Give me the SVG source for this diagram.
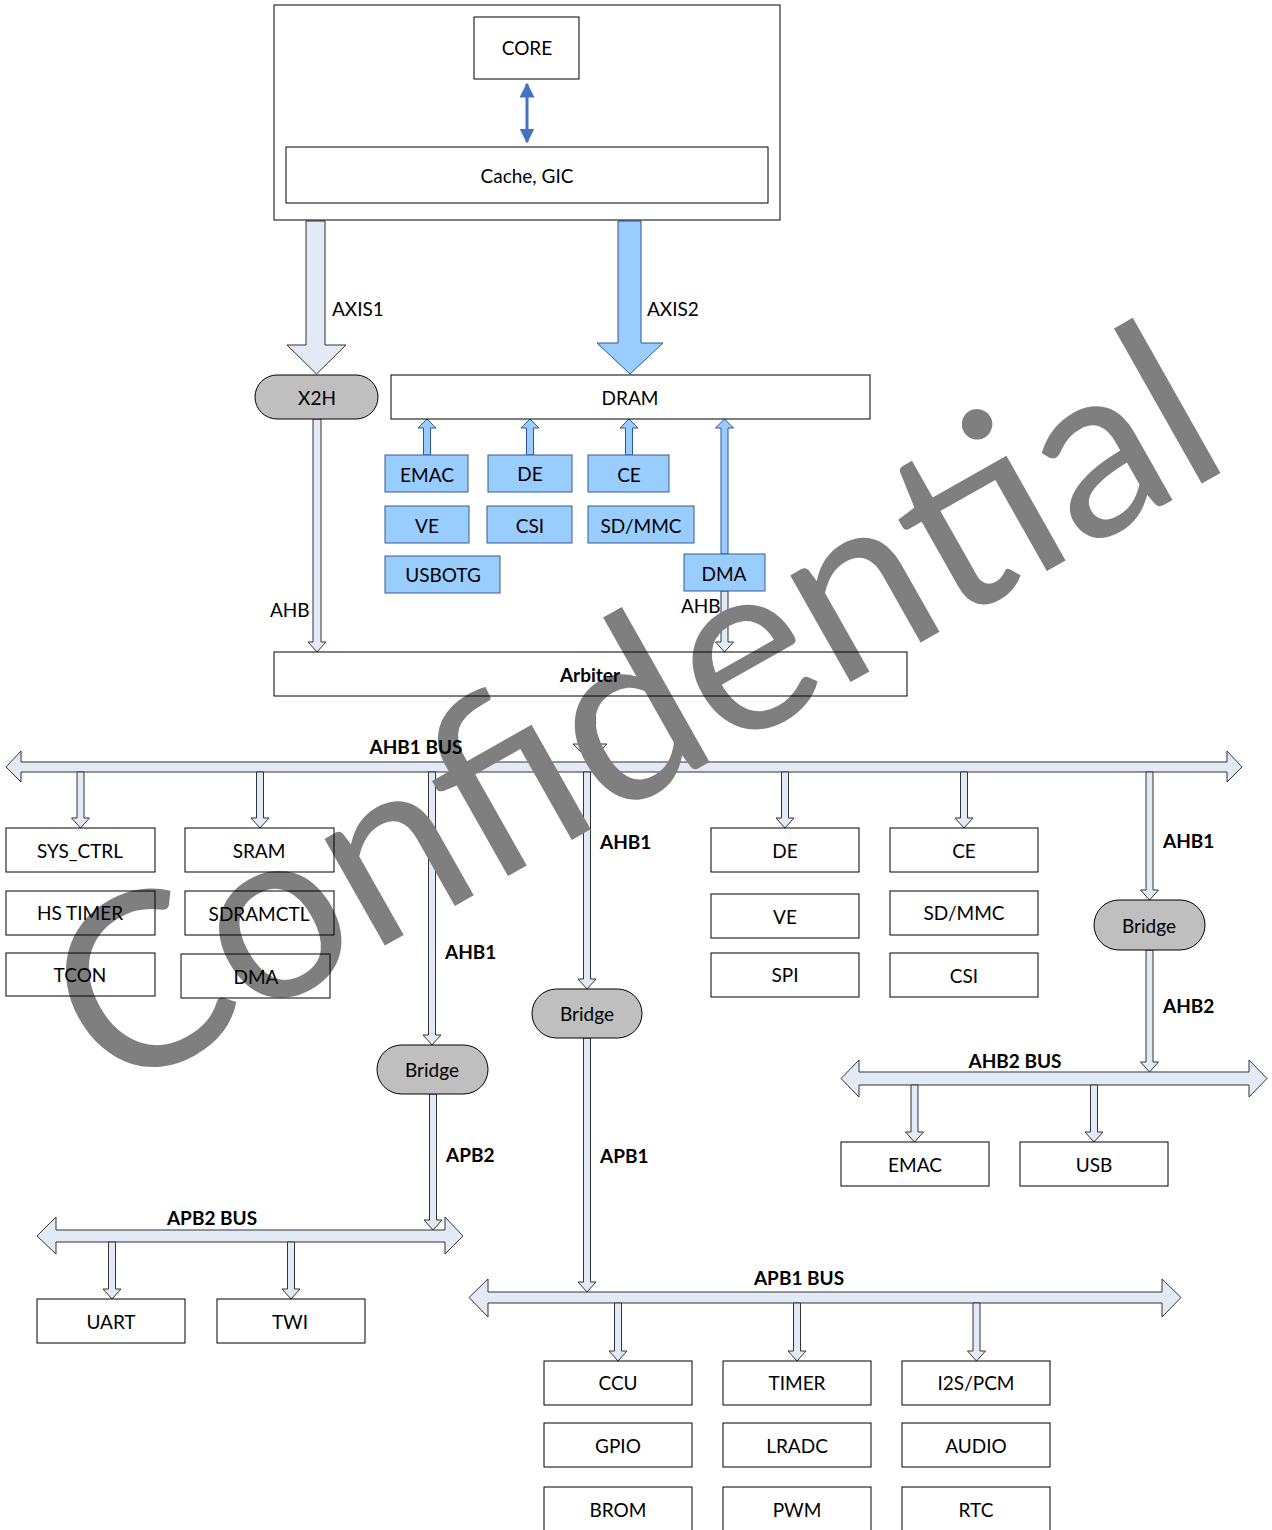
<svg xmlns="http://www.w3.org/2000/svg" width="1272" height="1530" viewBox="0 0 1272 1530">
<style>
text{font-family:Lato,"Open Sans","Liberation Sans",sans-serif;font-size:19px;fill:#000;text-anchor:middle;dominant-baseline:central}
.st{text-anchor:start}
.b{font-weight:bold}
.box{fill:none;stroke:#000;stroke-width:1}
.bl{fill:#99ccff;stroke:#385d8a;stroke-width:1}
.pill{fill:#bfbfbf;stroke:#000;stroke-width:1}
.ba{fill:#e2eaf6;stroke:#333;stroke-width:1}
.bu{fill:#99ccff;stroke:#2f5597;stroke-width:1}
.wm{font-family:Lato,"Liberation Sans",sans-serif;font-size:242px;fill:#7f7f7f;text-anchor:middle;dominant-baseline:alphabetic}
</style>
<defs>
<marker id="ah" viewBox="0 0 10 10" refX="9" refY="5" markerWidth="5" markerHeight="5" orient="auto-start-reverse"><path d="M0,0L10,5L0,10z" fill="#4472c4"/></marker>
</defs>
<rect width="1272" height="1530" fill="#fff"/>
<g id="connectors">
<line x1="527" y1="84" x2="527" y2="142" stroke="#4472c4" stroke-width="3" marker-start="url(#ah)" marker-end="url(#ah)"/>
<polygon class="ba" points="306,221 325,221 325,345 346,345 316.5,374 287,345 306,345"/>
<polygon class="bu" points="618,221 641,221 641,343 663,343 630,374 597,343 618,343"/>
<polygon class="bu" points="423.5,455 430.5,455 430.5,428 436,428 427,419 418,428 423.5,428"/>
<polygon class="bu" points="526.5,455 533.5,455 533.5,428 539,428 530,419 521,428 526.5,428"/>
<polygon class="bu" points="625.5,455 632.5,455 632.5,428 638,428 629,419 620,428 625.5,428"/>
<polygon class="bu" points="721,554 728,554 728,428 733.5,428 724.5,419 715.5,428 721,428"/>
<polygon class="ba" points="313,419 321,419 321,642 326,642 317,652 308,642 313,642"/>
<polygon class="ba" points="721,591 728,591 728,642 733.5,642 724.5,652 715.5,642 721,642"/>
<polygon class="ba" points="584.5,696 595.5,696 595.5,744 607,744 590,761 573,744 584.5,744"/>
<polygon class="ba" points="6,767 21,751 21,762 1227,762 1227,751 1242,767 1227,782 1227,772 21,772 21,782"/>
<polygon class="ba" points="77,772 84,772 84,818 89.5,818 80.5,828 71.5,818 77,818"/>
<polygon class="ba" points="256.5,772 263.5,772 263.5,818 269,818 260,828 251,818 256.5,818"/>
<polygon class="ba" points="428.5,772 435.5,772 435.5,1035 441,1035 432,1045 423,1035 428.5,1035"/>
<polygon class="ba" points="583.5,772 590.5,772 590.5,979 596,979 587,989 578,979 583.5,979"/>
<polygon class="ba" points="781.5,772 788.5,772 788.5,818 794,818 785,828 776,818 781.5,818"/>
<polygon class="ba" points="960.5,772 967.5,772 967.5,818 973,818 964,828 955,818 960.5,818"/>
<polygon class="ba" points="1146,772 1153,772 1153,890 1158.5,890 1149.5,900 1140.5,890 1146,890"/>
<polygon class="ba" points="429.5,1094 436.5,1094 436.5,1220 442,1220 433,1230 424,1220 429.5,1220"/>
<polygon class="ba" points="583.5,1038 590.5,1038 590.5,1282 596,1282 587,1292 578,1282 583.5,1282"/>
<polygon class="ba" points="1146,950 1153,950 1153,1062 1158.5,1062 1149.5,1072 1140.5,1062 1146,1062"/>
<polygon class="ba" points="841,1078.5 859,1060 859,1072 1249,1072 1249,1060 1267,1078.5 1249,1097 1249,1085 859,1085 859,1097"/>
<polygon class="ba" points="911,1085 918,1085 918,1132 923.5,1132 914.5,1142 905.5,1132 911,1132"/>
<polygon class="ba" points="1090.5,1085 1097.5,1085 1097.5,1132 1103,1132 1094,1142 1085,1132 1090.5,1132"/>
<polygon class="ba" points="37,1236 56,1217 56,1230 445,1230 445,1217 463,1236 445,1254 445,1242 56,1242 56,1254"/>
<polygon class="ba" points="108.5,1242 115.5,1242 115.5,1289 121,1289 112,1299 103,1289 108.5,1289"/>
<polygon class="ba" points="287.5,1242 294.5,1242 294.5,1289 300,1289 291,1299 282,1289 287.5,1289"/>
<polygon class="ba" points="469,1297.5 488,1279 488,1292 1162,1292 1162,1279 1181,1297.5 1162,1317 1162,1303 488,1303 488,1317"/>
<polygon class="ba" points="614.5,1303 621.5,1303 621.5,1351 627,1351 618,1361 609,1351 614.5,1351"/>
<polygon class="ba" points="793.5,1303 800.5,1303 800.5,1351 806,1351 797,1361 788,1351 793.5,1351"/>
<polygon class="ba" points="973,1303 980,1303 980,1351 985.5,1351 976.5,1361 967.5,1351 973,1351"/>
</g>
<text id="watermark" class="wm" x="674" y="782" transform="rotate(-29.5 674 782)">Confidential</text>
<g id="connector-labels">
<text class="st" x="332" y="308">AXIS1</text>
<text class="st" x="647" y="308">AXIS2</text>
<text class="st" x="270" y="609">AHB</text>
<text class="st" x="681" y="605">AHB</text>
<text class="b" x="416" y="746">AHB1 BUS</text>
<text class="st b" x="445" y="951">AHB1</text>
<text class="st b" x="600" y="841">AHB1</text>
<text class="st b" x="1163" y="840">AHB1</text>
<text class="st b" x="1163" y="1005">AHB2</text>
<text class="b" x="1015" y="1060">AHB2 BUS</text>
<text class="st b" x="446" y="1154">APB2</text>
<text class="st b" x="600" y="1155">APB1</text>
<text class="b" x="212" y="1217">APB2 BUS</text>
<text class="b" x="799" y="1277">APB1 BUS</text>
</g>
<g id="cpu"><rect class="box" x="274" y="5" width="506" height="215"/></g>
<g id="core"><rect class="box" x="474" y="17" width="105" height="62"/><text x="527" y="47">CORE</text></g>
<g id="cache"><rect class="box" x="286" y="147" width="482" height="56"/><text x="527" y="175">Cache, GIC</text></g>
<g id="x2h"><rect class="pill" x="255" y="375" width="123" height="44" rx="22"/><text x="317" y="397">X2H</text></g>
<g id="dram"><rect class="box" x="391" y="375" width="479" height="44"/><text x="630" y="397">DRAM</text></g>
<g id="m-emac"><rect class="bl" x="385" y="455" width="83" height="37"/><text x="427" y="474">EMAC</text></g>
<g id="m-de"><rect class="bl" x="488" y="455" width="84" height="37"/><text x="530" y="473">DE</text></g>
<g id="m-ce"><rect class="bl" x="588" y="455" width="81" height="37"/><text x="629" y="474">CE</text></g>
<g id="m-ve"><rect class="bl" x="385" y="506" width="84" height="37"/><text x="427" y="525">VE</text></g>
<g id="m-csi"><rect class="bl" x="487" y="506" width="85" height="37"/><text x="530" y="525">CSI</text></g>
<g id="m-sdmmc"><rect class="bl" x="588" y="506" width="106" height="37"/><text x="641" y="525">SD/MMC</text></g>
<g id="m-usbotg"><rect class="bl" x="385" y="556" width="115" height="37"/><text x="443" y="574">USBOTG</text></g>
<g id="m-dma"><rect class="bl" x="684" y="554" width="81" height="37"/><text x="724" y="573">DMA</text></g>
<g id="arbiter"><rect class="box" x="274" y="652" width="633" height="44"/><text class="b" x="590" y="674">Arbiter</text></g>
<g id="sys_ctrl"><rect class="box" x="6" y="828" width="149" height="44"/><text x="80" y="850">SYS_CTRL</text></g>
<g id="sram"><rect class="box" x="185" y="828" width="149" height="44"/><text x="259" y="850">SRAM</text></g>
<g id="hs_timer"><rect class="box" x="6" y="891" width="149" height="44"/><text x="80" y="912">HS TIMER</text></g>
<g id="sdramctl"><rect class="box" x="185" y="891" width="149" height="44"/><text x="259" y="913">SDRAMCTL</text></g>
<g id="tcon"><rect class="box" x="6" y="953" width="149" height="43"/><text x="80" y="974">TCON</text></g>
<g id="dma"><rect class="box" x="181" y="954" width="149" height="44"/><text x="256" y="976">DMA</text></g>
<g id="de"><rect class="box" x="711" y="828" width="148" height="44"/><text x="785" y="850">DE</text></g>
<g id="ce"><rect class="box" x="890" y="828" width="148" height="44"/><text x="964" y="850">CE</text></g>
<g id="ve"><rect class="box" x="711" y="894" width="148" height="44"/><text x="785" y="916">VE</text></g>
<g id="sdmmc"><rect class="box" x="890" y="891" width="148" height="44"/><text x="964" y="912">SD/MMC</text></g>
<g id="spi"><rect class="box" x="711" y="953" width="148" height="44"/><text x="785" y="974">SPI</text></g>
<g id="csi"><rect class="box" x="890" y="953" width="148" height="44"/><text x="964" y="975">CSI</text></g>
<g id="bridge-r"><rect class="pill" x="1094" y="900" width="111" height="50" rx="25"/><text x="1149" y="925">Bridge</text></g>
<g id="bridge-m"><rect class="pill" x="532" y="989" width="110" height="49" rx="24.5"/><text x="587" y="1013">Bridge</text></g>
<g id="bridge-l"><rect class="pill" x="377" y="1045" width="111" height="49" rx="24.5"/><text x="432" y="1069">Bridge</text></g>
<g id="emac"><rect class="box" x="841" y="1142" width="148" height="44"/><text x="915" y="1164">EMAC</text></g>
<g id="usb"><rect class="box" x="1020" y="1142" width="148" height="44"/><text x="1094" y="1164">USB</text></g>
<g id="uart"><rect class="box" x="37" y="1299" width="148" height="44"/><text x="111" y="1321">UART</text></g>
<g id="twi"><rect class="box" x="217" y="1299" width="148" height="44"/><text x="290" y="1321">TWI</text></g>
<g id="ccu"><rect class="box" x="544" y="1361" width="148" height="44"/><text x="618" y="1382">CCU</text></g>
<g id="timer"><rect class="box" x="723" y="1361" width="148" height="44"/><text x="797" y="1382">TIMER</text></g>
<g id="i2s"><rect class="box" x="902" y="1361" width="148" height="44"/><text x="976" y="1382">I2S/PCM</text></g>
<g id="gpio"><rect class="box" x="544" y="1423" width="148" height="44"/><text x="618" y="1445">GPIO</text></g>
<g id="lradc"><rect class="box" x="723" y="1423" width="148" height="44"/><text x="797" y="1445">LRADC</text></g>
<g id="audio"><rect class="box" x="902" y="1423" width="148" height="44"/><text x="976" y="1445">AUDIO</text></g>
<g id="brom"><rect class="box" x="544" y="1487" width="148" height="44"/><text x="618" y="1509">BROM</text></g>
<g id="pwm"><rect class="box" x="723" y="1487" width="148" height="44"/><text x="797" y="1509">PWM</text></g>
<g id="rtc"><rect class="box" x="902" y="1487" width="148" height="44"/><text x="976" y="1509">RTC</text></g>
</svg>
